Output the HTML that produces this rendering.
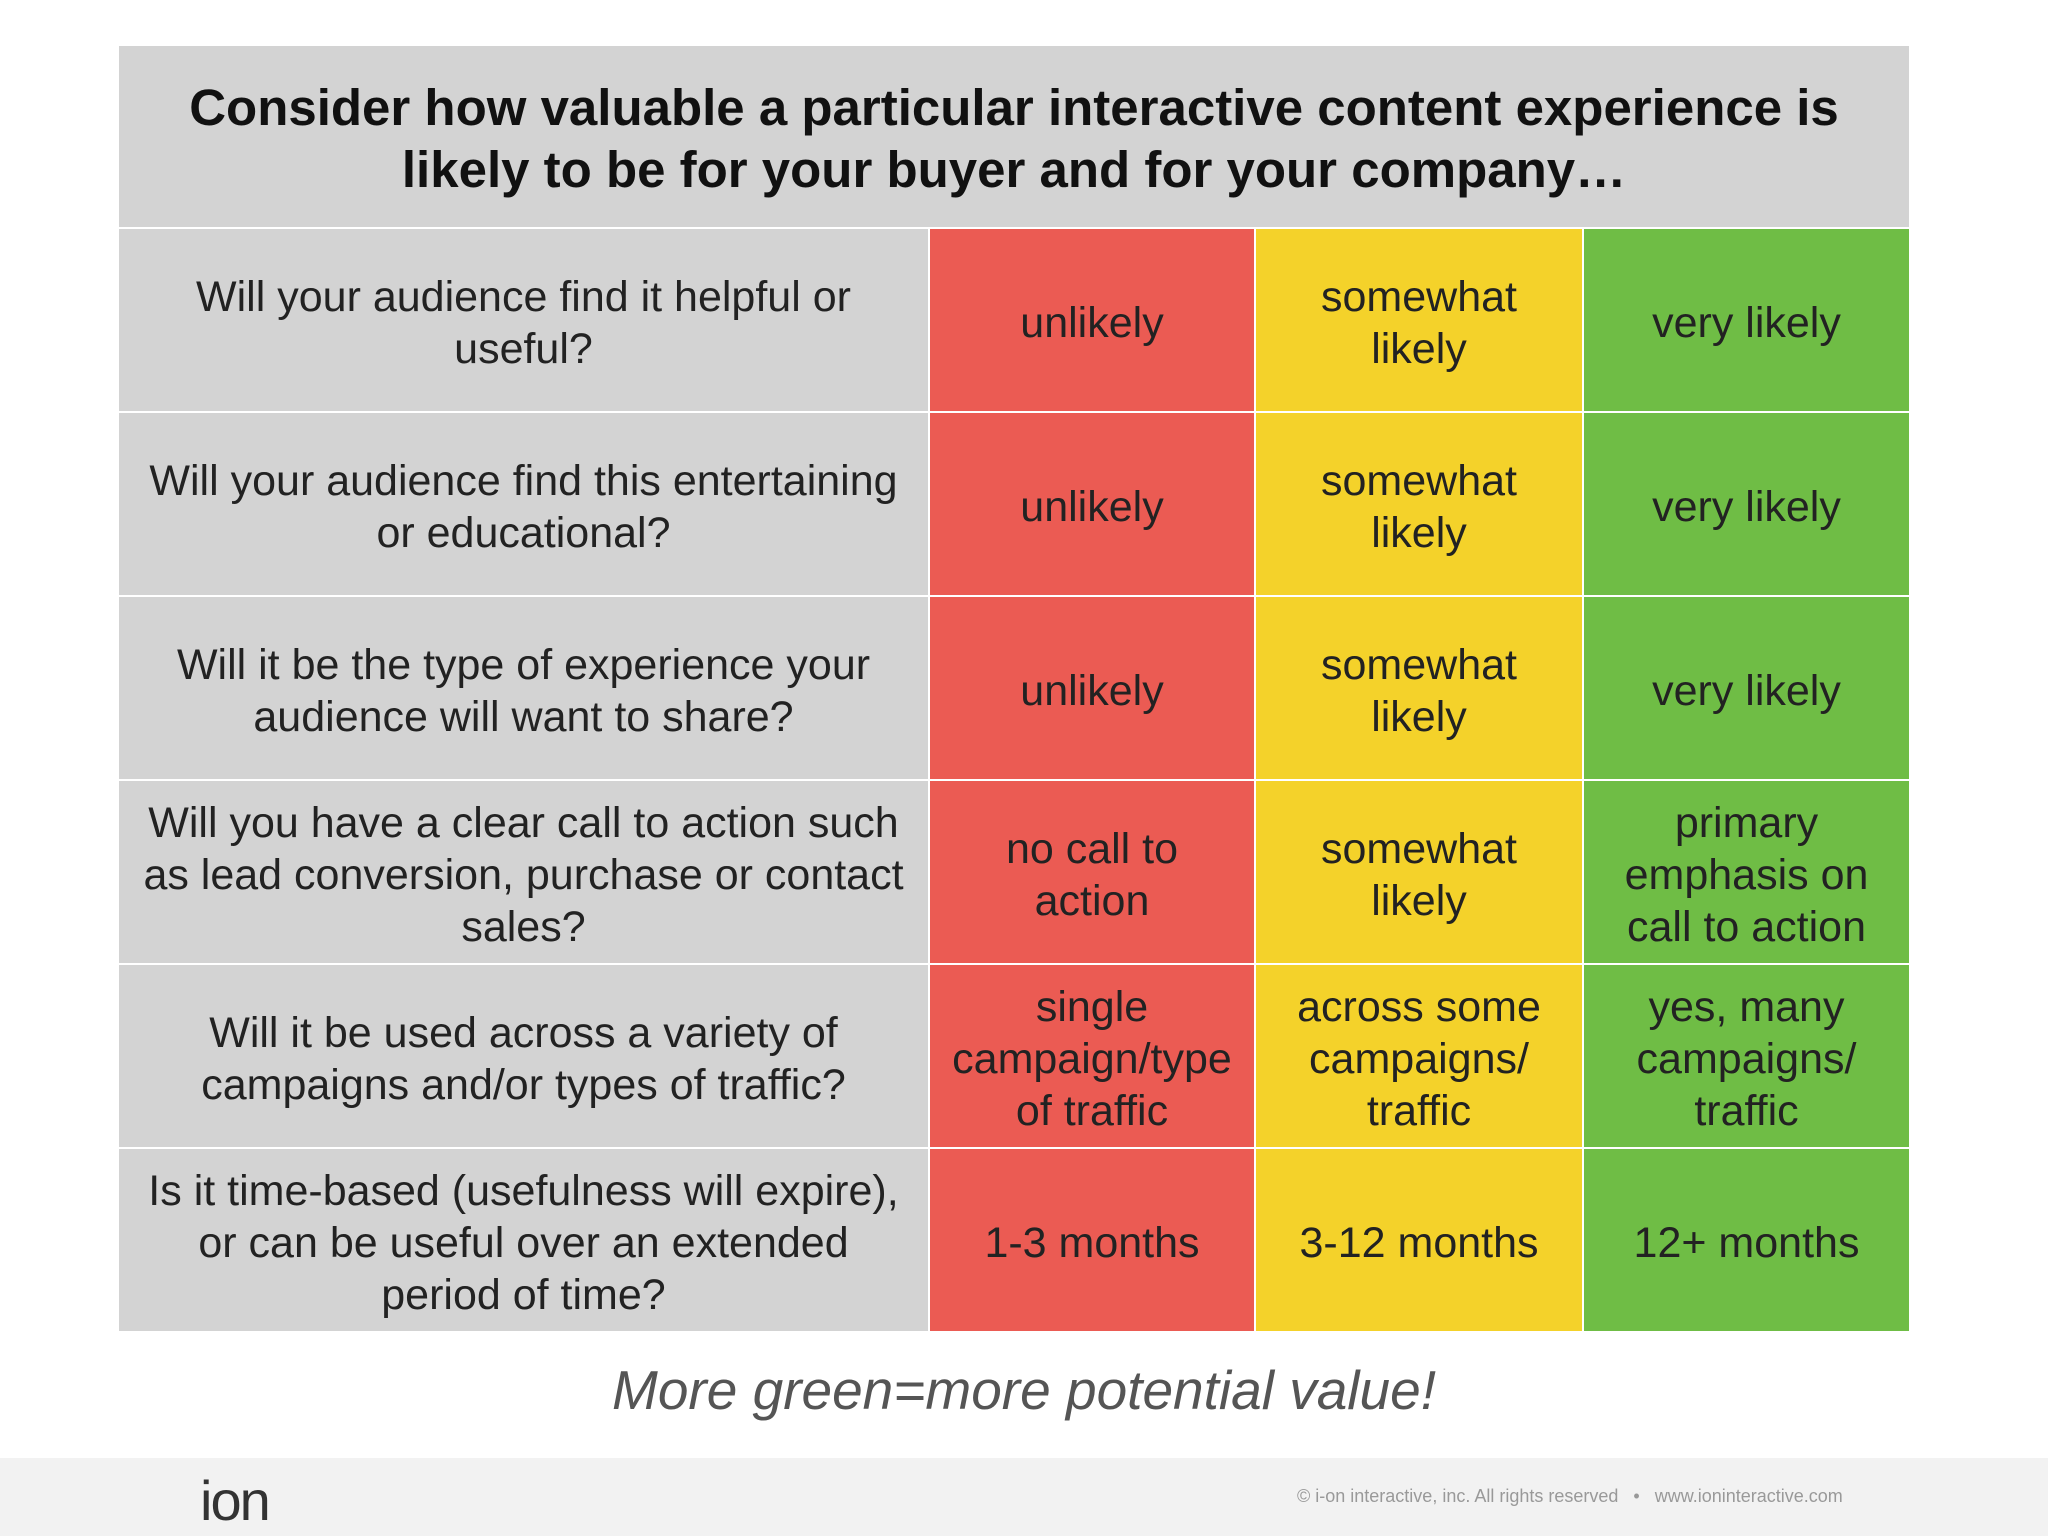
<!DOCTYPE html>
<html><head><meta charset="utf-8"><style>
body{margin:0;width:2048px;height:1536px;background:#fff;font-family:"Liberation Sans",sans-serif;position:relative;overflow:hidden}
.c{position:absolute;display:flex;align-items:center;justify-content:center;text-align:center;box-sizing:border-box;font-size:43px;line-height:52px;color:#222;padding-top:5px}
.q{background:#d3d3d3}.r{background:#eb5b53}.y{background:#f4d22a}.g{background:#6fbd45}
</style></head><body>
<div class="c" style="left:119px;top:46px;width:1790px;height:181px;background:#d3d3d3;font-weight:bold;font-size:51px;line-height:62px;color:#111">Consider how valuable a particular interactive content experience is<br>likely to be for your buyer and for your company…</div>
<div id="grid"></div>
<div class="c" style="left:0;top:1352px;width:2048px;height:70px;font-style:italic;font-size:55px;color:#555">More green=more potential value!</div>
<div style="position:absolute;left:0;top:1458px;width:2048px;height:78px;background:#f2f2f2"></div>
<div style="position:absolute;left:200px;top:1468px;font-size:56px;color:#333;letter-spacing:-2px">ion</div>
<div style="position:absolute;left:1297px;top:1486px;font-size:18px;color:#999">© i-on interactive, inc. All rights reserved &nbsp;&nbsp;•&nbsp;&nbsp; www.ioninteractive.com</div>
<script>
const rows=[
["Will your audience find it helpful or<br>useful?","unlikely","somewhat<br>likely","very likely"],
["Will your audience find this entertaining<br>or educational?","unlikely","somewhat<br>likely","very likely"],
["Will it be the type of experience your<br>audience will want to share?","unlikely","somewhat<br>likely","very likely"],
["Will you have a clear call to action such<br>as lead conversion, purchase or contact<br>sales?","no call to<br>action","somewhat<br>likely","primary<br>emphasis on<br>call to action"],
["Will it be used across a variety of<br>campaigns and/or types of traffic?","single<br>campaign/type<br>of traffic","across some<br>campaigns/<br>traffic","yes, many<br>campaigns/<br>traffic"],
["Is it time-based (usefulness will expire),<br>or can be useful over an extended<br>period of time?","1-3 months","3-12 months","12+ months"]];
const xs=[119,929,1255,1583,1909],cls=["q","r","y","g"],top0=227,rh=184;
const grid=document.getElementById('grid');
rows.forEach((r,i)=>{r.forEach((t,j)=>{
const d=document.createElement('div');d.className='c '+cls[j];


d.style.left=(xs[j]+(j?1:0))+'px';d.style.top=(top0+i*rh+2)+'px';
d.style.width=(xs[j+1]-xs[j]-(j?1:0)-(j<3?1:0))+'px';d.style.height=(rh-2)+'px';
d.innerHTML=t;grid.appendChild(d);});});
</script>
</body></html>
